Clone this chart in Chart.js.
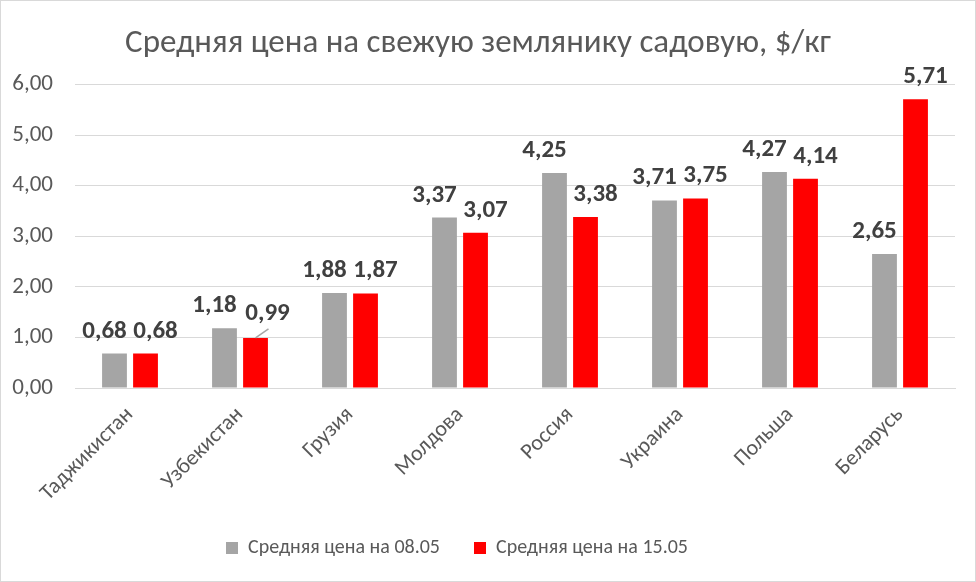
<!DOCTYPE html>
<html><head><meta charset="utf-8">
<script src="https://cdn.jsdelivr.net/npm/chart.js@4/dist/chart.umd.min.js"></script>
<style>
html,body{margin:0;padding:0;background:#fff;}
#wrap{position:absolute;left:0;top:0;width:974px;height:580px;border:1px solid #d9d9d9;}
</style></head><body>
<div id="wrap"><canvas id="c" width="974" height="580"></canvas></div>
<script>
const categories = ["Таджикистан","Узбекистан","Грузия","Молдова","Россия","Украина","Польша","Беларусь"];
const series1Name = "Средняя цена на 08.05";
const series2Name = "Средняя цена на 15.05";
const series1 = [0.68,1.18,1.88,3.37,4.25,3.71,4.27,2.65];
const series2 = [0.68,0.99,1.87,3.07,3.38,3.75,4.14,5.71];
const yTicks = [0,1,2,3,4,5,6];

const FONT = "Carlito, 'Liberation Sans Narrow', 'Liberation Sans', sans-serif";
const fmt = v => v.toFixed(2).replace('.', ',');

const labelPlugin = {
  id: 'dlabels',
  afterDatasetsDraw(chart) {
    const ctx = chart.ctx;
    ctx.save();
    ctx.font = "bold 25px " + FONT;
    ctx.fillStyle = "#404040";
    ctx.textAlign = "center";
    ctx.textBaseline = "alphabetic";
    chart.data.datasets.forEach((ds, di) => {
      const meta = chart.getDatasetMeta(di);
      meta.data.forEach((bar, i) => {
        let x = bar.x + (di === 0 ? -10 : 10), y = bar.y - 16;
        if (di === 1 && i === 1) {
          ctx.strokeStyle = "#a6a6a6";
          ctx.lineWidth = 1.5;
          ctx.beginPath();
          ctx.moveTo(bar.x, bar.y);
          ctx.lineTo(bar.x + 13, bar.y - 9);
          ctx.stroke();
          x = bar.x + 12; y = bar.y - 18;
        }
        ctx.fillText(fmt(ds.data[i]), x, y);
      });
    });
    ctx.restore();
  }
};

const legendShift = {
  id: 'legendShift',
  afterLayout(chart) {
    const lg = chart.legend;
    if (lg) { lg.left -= 21; lg.right -= 21; }
  }
};

new Chart(document.getElementById('c'), {
  type: 'bar',
  data: {
    labels: categories,
    datasets: [
      {label: series1Name, data: series1, backgroundColor: '#a5a5a5', categoryPercentage: 0.564, barPercentage: 0.8},
      {label: series2Name, data: series2, backgroundColor: '#ff0000', categoryPercentage: 0.564, barPercentage: 0.8}
    ]
  },
  options: {
    responsive: false,
    animation: false,
    layout: {padding: {left: 0, right: 20, top: 0, bottom: 13}},
    plugins: {
      title: {display: true, text: "Средняя цена на свежую землянику садовую, $/кг",
        color: '#595959', font: {family: FONT, size: 33, weight: 'normal', lineHeight: 1.2}, padding: {top: 23, bottom: 21}},
      legend: {position: 'bottom', labels: {color: '#595959', font: {family: FONT, size: 20},
        boxWidth: 12, boxHeight: 12, padding: 34}},
      tooltip: {enabled: false}
    },
    scales: {
      y: {
        min: 0, max: 6,
        afterBuildTicks: axis => { axis.ticks = yTicks.map(v => ({value: v})); },
        afterFit: axis => { axis.width = 74; },
        ticks: {color: '#595959', font: {family: FONT, size: 23}, padding: 22, callback: v => fmt(v)},
        grid: {color: '#d9d9d9', lineWidth: 1, drawTicks: false},
        border: {display: false}
      },
      x: {
        afterFit: axis => { axis.height = 116; },
        ticks: {color: '#595959', font: {family: FONT, size: 22}, minRotation: 45, maxRotation: 45, padding: 6},
        grid: {display: false},
        border: {color: '#d9d9d9'}
      }
    }
  },
  plugins: [labelPlugin, legendShift]
});
</script></body></html>
